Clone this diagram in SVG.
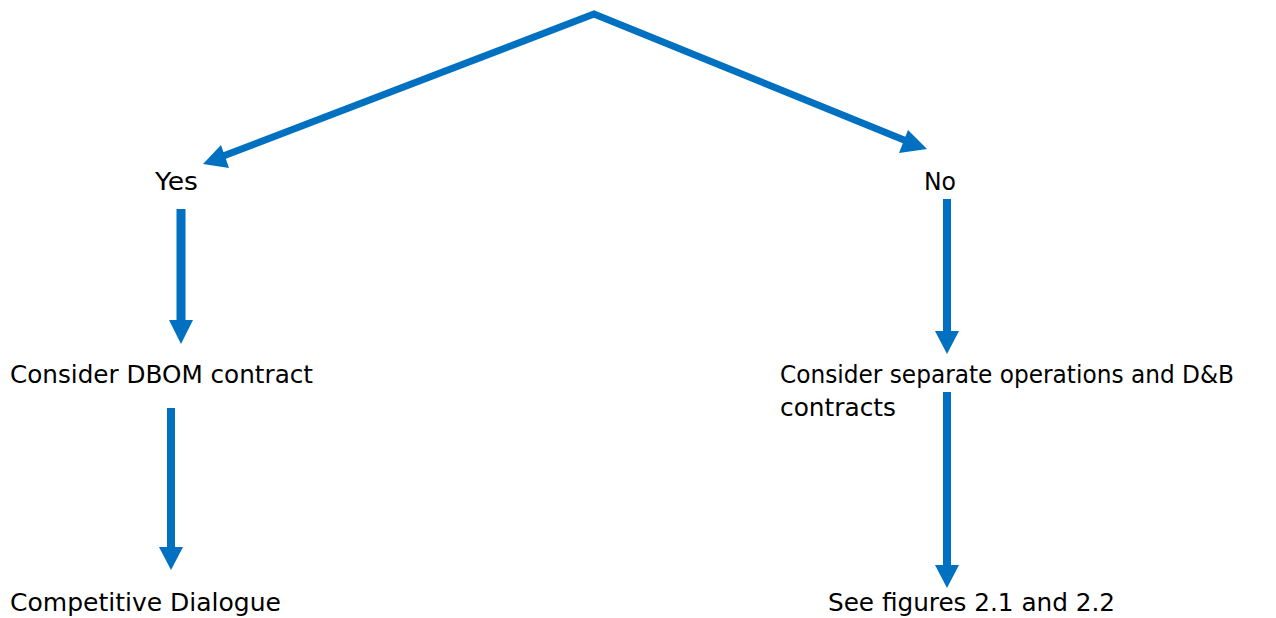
<svg xmlns="http://www.w3.org/2000/svg" width="1276" height="618" viewBox="0 0 1276 618">
<style>
text{font-family:"DejaVu Sans","Liberation Sans",sans-serif;font-size:24px;fill:#000}
.c{stroke:#0070C0;fill:none}
.h{fill:#0070C0}
</style>
<rect width="1276" height="618" fill="#fff"/>
<g id="connectors">
<polyline class="c" stroke-width="7" stroke-linejoin="miter" points="218,158 594,14 909,142"/>
<polygon class="h" points="203,164 221,145 229,168"/>
<polygon class="h" points="927,149 899,153 908,130"/>
<line class="c" stroke-width="9" x1="181" y1="209" x2="181" y2="322"/>
<polygon class="h" points="169,320 193,320 181,344"/>
<line class="c" stroke-width="8" x1="947" y1="199" x2="947" y2="333"/>
<polygon class="h" points="935,331 959,331 947,354"/>
<line class="c" stroke-width="8" x1="171" y1="408" x2="171" y2="549"/>
<polygon class="h" points="159,547 183,547 171,570"/>
<line class="c" stroke-width="8" x1="947" y1="392" x2="947" y2="567"/>
<polygon class="h" points="935,565 959,565 947,588"/>
</g>
<g id="yes"><text x="155" y="190" textLength="43" lengthAdjust="spacingAndGlyphs">Yes</text></g>
<g id="no"><text x="924" y="190" textLength="32" lengthAdjust="spacingAndGlyphs">No</text></g>
<g id="dbom"><text x="10" y="383" textLength="303" lengthAdjust="spacingAndGlyphs">Consider DBOM contract</text></g>
<g id="separate">
<text x="780" y="383" textLength="454" lengthAdjust="spacingAndGlyphs">Consider separate operations and D&amp;B</text>
<text x="780" y="416" textLength="116" lengthAdjust="spacingAndGlyphs">contracts</text>
</g>
<g id="competitive"><text x="10" y="611" textLength="271" lengthAdjust="spacingAndGlyphs">Competitive Dialogue</text></g>
<g id="figures"><text x="828" y="611" textLength="287" lengthAdjust="spacingAndGlyphs">See figures 2.1 and 2.2</text></g>
</svg>
